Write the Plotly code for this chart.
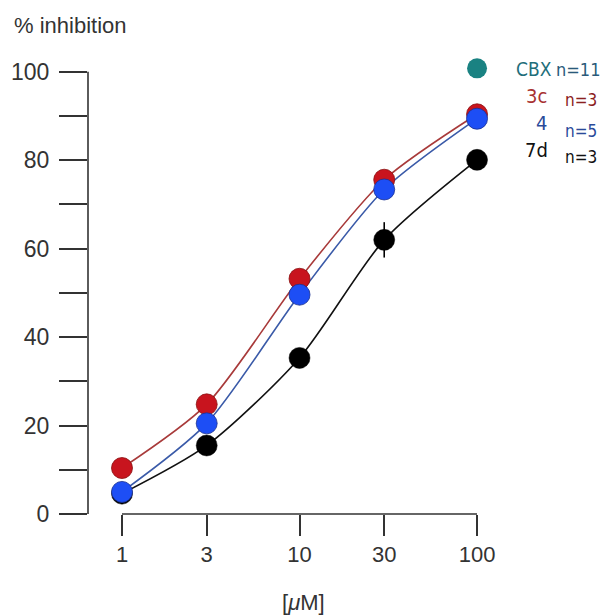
import plotly.graph_objects as go

conc = [1, 3, 10, 30, 100]
inh_3c = [10.4, 24.8, 53.2, 75.6, 90.4]
inh_4 = [5.0, 20.5, 49.6, 73.4, 89.4]
inh_7d = [4.6, 15.5, 35.3, 62.0, 80.1]
err_7d = [0, 0, 0, 4.0, 0]
cbx_legend_x = [100]
cbx_legend_y = [100.8]
x_ticks = [1, 3, 10, 30, 100]
x_ticklabels = ["1", "3", "10", "30", "100"]
y_ticks = [0, 20, 40, 60, 80, 100]
y_minor = [10, 30, 50, 70, 90]

FONT = "Liberation Sans, Arial, sans-serif"
NARROW = "Liberation Sans Narrow, Arial Narrow, DejaVu Sans Condensed, Liberation Sans, sans-serif"
AX = "#333333"

SM = 0.75
fig = go.Figure()

fig.add_trace(go.Scatter(x=conc, y=inh_7d, mode="lines", line=dict(color="#111111", width=1.6, shape="spline", smoothing=SM), hoverinfo="skip", showlegend=False))
fig.add_trace(go.Scatter(x=conc, y=inh_3c, mode="lines", line=dict(color="#a83a3a", width=1.6, shape="spline", smoothing=SM), hoverinfo="skip", showlegend=False))
fig.add_trace(go.Scatter(x=conc, y=inh_4, mode="lines", line=dict(color="#3a5aa8", width=1.6, shape="spline", smoothing=SM), hoverinfo="skip", showlegend=False))

fig.add_trace(go.Scatter(x=conc, y=inh_7d, mode="markers", name="7d",
                         marker=dict(color="#000000", size=21, line=dict(color="#000000", width=0.5)),
                         error_y=dict(type="data", array=err_7d, visible=True, color="#000000", thickness=1.6, width=0),
                         showlegend=False, cliponaxis=False))
fig.add_trace(go.Scatter(x=conc, y=inh_3c, mode="markers", name="3c",
                         marker=dict(color="#c8141e", size=21, line=dict(color="#8a1010", width=0.8)),
                         showlegend=False, cliponaxis=False))
fig.add_trace(go.Scatter(x=conc, y=inh_4, mode="markers", name="4",
                         marker=dict(color="#1d4ef5", size=21, line=dict(color="#1a3090", width=0.8)),
                         showlegend=False, cliponaxis=False))
fig.add_trace(go.Scatter(x=cbx_legend_x, y=cbx_legend_y, mode="markers", name="CBX",
                         marker=dict(color="#1a8282", size=20, line=dict(width=0)),
                         showlegend=False, cliponaxis=False))

OFF = 8
YMAX = 102
L, R, T, B = 88 - OFF, 490 - OFF, 55, 514 - OFF
W, H = 600, 608

def px(x):
    return (x - OFF - L) / (R - L)

def py(y):
    return (B - (y - OFF)) / (B - T)

annots = [
    dict(text="% inhibition", x=px(12), y=py(25), xanchor="left", yanchor="middle", font=dict(size=22, color=AX, family=FONT)),
    dict(text="[<i>μ</i>M]", x=px(303), y=py(602), xanchor="center", yanchor="middle", font=dict(size=22, color=AX, family=FONT)),
    dict(text="CBX", x=px(514), y=py(69), xanchor="left", yanchor="middle", font=dict(size=19, color="#1e6e7a", family=NARROW)),
    dict(text="n=11", x=px(554), y=py(69), xanchor="left", yanchor="middle", font=dict(size=18, color="#2a5a7a", family=NARROW)),
    dict(text="3c", x=px(549), y=py(96), xanchor="right", yanchor="middle", font=dict(size=20, color="#a83232", family=NARROW)),
    dict(text="n=3", x=px(563), y=py(100), xanchor="left", yanchor="middle", font=dict(size=17, color="#8b2020", family=NARROW)),
    dict(text="4", x=px(549), y=py(123), xanchor="right", yanchor="middle", font=dict(size=20, color="#2a4a9a", family=NARROW)),
    dict(text="n=5", x=px(563), y=py(131), xanchor="left", yanchor="middle", font=dict(size=17, color="#2a4a9a", family=NARROW)),
    dict(text="7d", x=px(550), y=py(150), xanchor="right", yanchor="middle", font=dict(size=20, color="#111111", family=NARROW)),
    dict(text="n=3", x=px(563), y=py(157), xanchor="left", yanchor="middle", font=dict(size=17, color="#111111", family=NARROW)),
]
for a in annots:
    a.update(xref="paper", yref="paper", showarrow=False)

fig.update_layout(
    width=W, height=H,
    margin=dict(l=L, r=W - R, t=T, b=H - B, pad=0, autoexpand=False),
    plot_bgcolor="white", paper_bgcolor="white",
    font=dict(family=FONT, size=22, color=AX),
    annotations=annots,
    shapes=[
        dict(type="line", xref="x", yref="paper", x0=conc[0], x1=conc[-1], y0=0, y1=0, line=dict(color=AX, width=1.6)),
        dict(type="line", xref="paper", yref="y", x0=0, x1=0, y0=y_ticks[0], y1=y_ticks[-1], line=dict(color=AX, width=1.6)),
    ],
    xaxis=dict(type="log", range=[-0.1915, 2.073], tickvals=x_ticks, ticktext=x_ticklabels,
               ticks="outside", ticklen=21, tickwidth=1.6, tickcolor=AX, automargin=False,
               showline=False, showgrid=False, zeroline=False,
               tickfont=dict(size=22, color=AX)),
    yaxis=dict(range=[0, YMAX], tickvals=y_ticks, automargin=False,
               ticks="outside", ticklen=28, tickwidth=1.6, tickcolor=AX,
               showline=False, showgrid=False, zeroline=False, ticklabelstandoff=5,
               minor=dict(tickvals=y_minor, ticks="outside", ticklen=28, tickwidth=1.6, tickcolor=AX),
               tickfont=dict(size=23, color=AX)),
)

fig.write_html("out.html")
